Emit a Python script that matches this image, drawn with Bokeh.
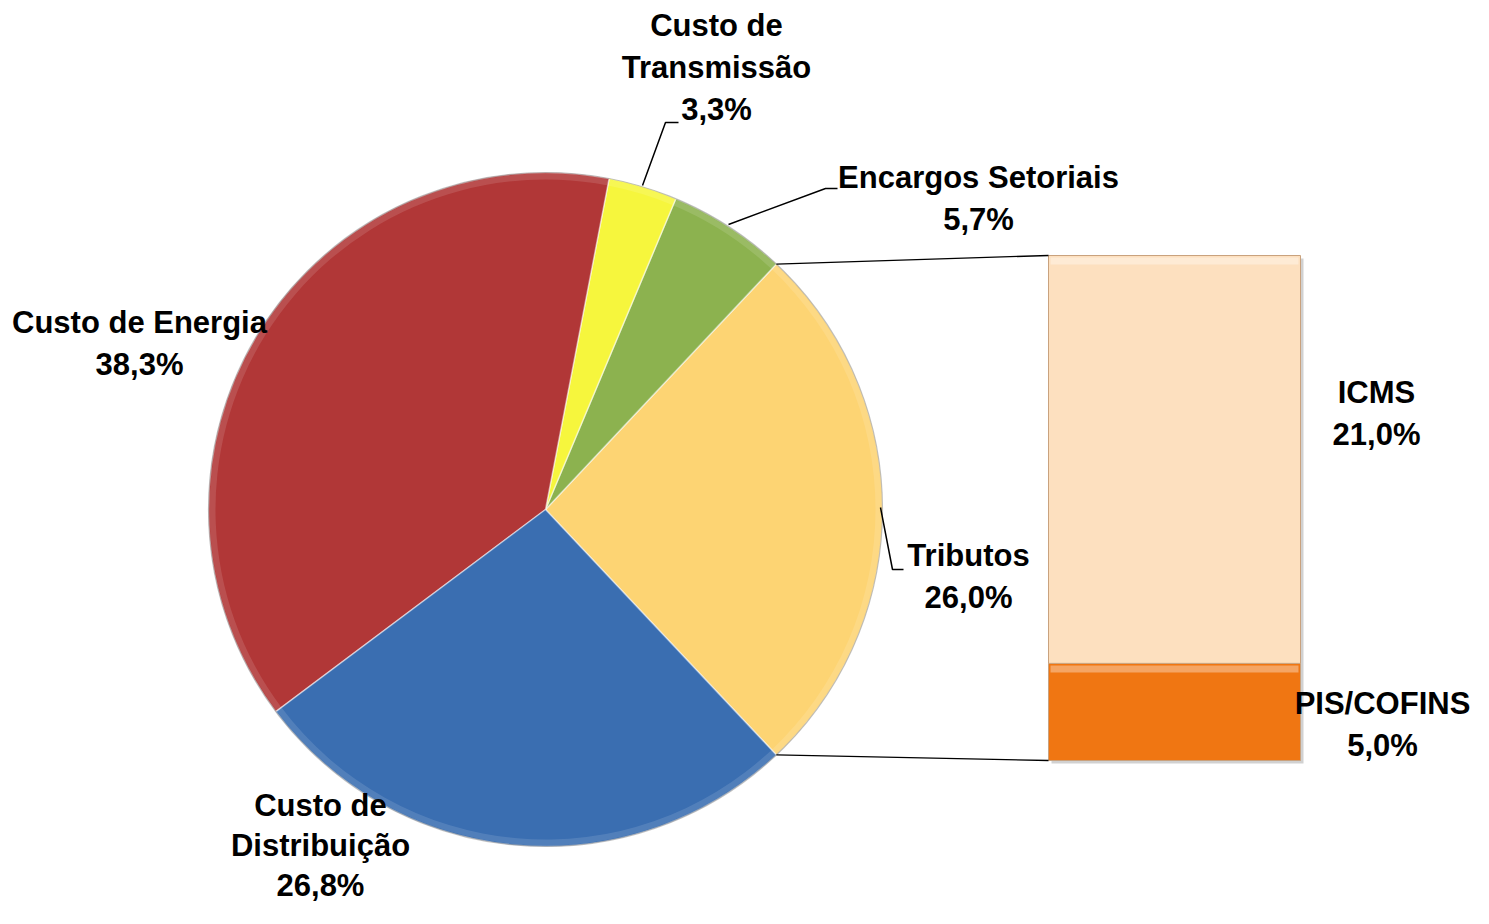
import math
from bokeh.plotting import figure
from bokeh.models import Range1d, ColumnDataSource
from bokeh.core.properties import value
from bokeh.embed import file_html
from bokeh.resources import INLINE

# ---- data ----
pie_labels = ["Tributos", "Encargos Setoriais", "Custo de Transmissão", "Custo de Energia", "Custo de Distribuição"]
pie_values = [26.0, 5.7, 3.3, 38.3, 26.8]
pie_colors = ["#fdd473", "#8cb24f", "#f6f63d", "#b13737", "#3a6eb1"]
pie_text = ["Tributos\n26,0%", "Encargos Setoriais\n5,7%", "Custo de\nTransmissão\n3,3%",
            "Custo de Energia\n38,3%", "Custo de\nDistribuição\n26,8%"]

bar_labels = ["PIS/COFINS", "ICMS"]
bar_values = [5.0, 21.0]
bar_colors = ["#f07612", "#fde0bf"]
bar_text = ["PIS/COFINS\n5,0%", "ICMS\n21,0%"]

# ---- layout (picture pixel coordinates, y flipped) ----
W, H = 1473, 908
cx, cy, R = 545, H - 509, 337
bar_left, bar_right = 1048, 1300
bar_base = H - 760
bar_height_px = 505

FONT = value("Liberation Sans")
FS = "31px"


def Y(v):
    return H - v


p = figure(width=W, height=H, output_backend="svg", toolbar_location=None,
           x_range=Range1d(0, W), y_range=Range1d(0, H),
           min_border=0, outline_line_color=None)
p.axis.visible = False
p.grid.visible = False
p.background_fill_color = "white"

total = sum(pie_values)
starts, ends = [], []
a = -pie_values[0] / total * math.pi
for v in pie_values:
    starts.append(a)
    a += v / total * 2 * math.pi
    ends.append(a)

src = ColumnDataSource(dict(start=starts, end=ends, color=pie_colors))
p.wedge(x=cx, y=cy, radius=R, start_angle="start", end_angle="end",
        fill_color="color", line_color="white", line_alpha=0.5, line_width=1.5, source=src)
# bevel-like rim highlight
p.annular_wedge(x=cx, y=cy, inner_radius=R - 7, outer_radius=R - 1, start_angle="start", end_angle="end",
                fill_color="white", fill_alpha=0.12, line_color=None, source=src)
p.circle(x=cx, y=cy, radius=R, fill_color=None, line_color="#7a7a7a", line_alpha=0.45, line_width=1.2)

# ---- bar (stacked) ----
k = bar_height_px / pie_values[0]
bottoms, tops = [], []
b = bar_base
for v in bar_values:
    bottoms.append(b)
    b += v * k
    tops.append(b)
bsrc = ColumnDataSource(dict(bottom=bottoms, top=tops, color=bar_colors))
bx = (bar_left + bar_right) / 2
bw = bar_right - bar_left
# shadow
p.vbar(x=bx + 3, width=bw, bottom=bar_base - 3, top=tops[-1] - 3, fill_color="#000000",
       fill_alpha=0.18, line_color=None)
p.vbar(x=bx, width=bw, bottom="bottom", top="top", fill_color="color",
       line_color="#c9a27e", line_width=1, source=bsrc)
# bevel highlight strip at top of each segment
p.vbar(x=bx, width=bw - 4, bottom=[t - 9 for t in tops], top=[t - 2 for t in tops],
       fill_color="white", fill_alpha=0.35, line_color=None)

# ---- connector lines ----
ang = pie_values[0] / total * math.pi
p.line([cx + R * math.cos(ang), bar_left], [cy + R * math.sin(ang), tops[-1]], line_color="black", line_width=1.3)
p.line([cx + R * math.cos(-ang), bar_left], [cy + R * math.sin(-ang), bar_base], line_color="black", line_width=1.3)

# ---- leader lines ----
leaders = [
    ([642, 665, 678], [Y(185), Y(122), Y(122)]),
    ([728, 825, 837], [Y(224), Y(188), Y(188)]),
    ([880, 892, 903], [Y(507), Y(569), Y(569)]),
]
for xs, ys in leaders:
    p.line(xs, ys, line_color="black", line_width=1.5)

# ---- labels ----
label_pos = [(968, 576), (978, 198), (716, 67), (139, 343), (320, 845)]
label_lh = [1.2, 1.2, 1.2, 1.2, 1.13]
bar_label_pos = [(1382, 724), (1376, 413)]
items = list(zip(label_pos, pie_text, label_lh)) + [(pp, t, 1.2) for pp, t in zip(bar_label_pos, bar_text)]
for (lx, ly), t, lh in items:
    p.text(x=[lx], y=[Y(ly)], text=[t], text_font=FONT, text_font_size=FS, text_font_style="bold",
           text_align="center", text_baseline="middle", text_line_height=lh, text_color="black")

open("out.html", "w").write(file_html(p, INLINE))
